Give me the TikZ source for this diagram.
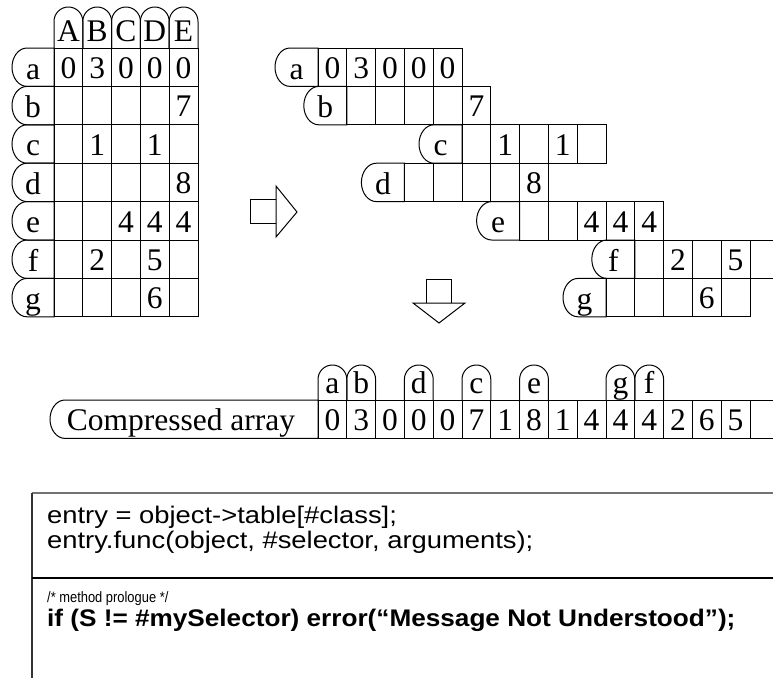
\documentclass[tikz,border=0pt]{standalone}
\usepackage{fontspec}
\setmainfont{Liberation Serif}
\newfontfamily\codefont[FakeStretch=1.14]{Liberation Sans}
\newfontfamily\codeboldfont[FakeStretch=1.09]{Liberation Sans}
\newfontfamily\codesmallfont[FakeStretch=0.86]{Liberation Sans}
\begin{document}
\begin{tikzpicture}[x=1pt,y=-1pt,
  ln/.style={draw=black,line width=1pt},
  txt/.style={anchor=base,inner sep=0pt,font=\fontsize{31.5}{31.5}\selectfont},
  code/.style={anchor=base west,inner sep=0pt,font=\codefont\fontsize{24}{26}\selectfont},
  codeb/.style={anchor=base west,inner sep=0pt,font=\codeboldfont\bfseries\fontsize{24}{26}\selectfont},
  codes/.style={anchor=base west,inner sep=0pt,font=\codesmallfont\fontsize{15}{17}\selectfont}]
\useasboundingbox (0,0) rectangle (773,678);
\clip (0,0) rectangle (773,678);
% header of the left table
\foreach \t [count=\j from 0] in {A,B,C,D,E} {
  \draw[ln] (54+\j*28.8,48) -- ++(0,-26.6) arc[start angle=180,end angle=360,radius=14.4] -- ++(0,26.6);
  \node[txt] (H\t) at (68.4+\j*28.8,41) {\t};
}
% rows: left table and staircase
\foreach \t/\off [count=\i from 0] in {a/0,b/1,c/5,d/3,e/7,f/11,g/10} {
  \pgfmathsetmacro\yt{48+\i*38.4}
  \pgfmathsetmacro\xr{318+\off*28.8}
  \draw[ln] (54,\yt) -- (27,\yt) arc[start angle=270,end angle=90,x radius=15,y radius=19.2] -- (54,\yt+38.4) -- cycle;
  \node[txt] (L\t) at (33,\yt+31) {\t};
  \draw[ln] (\xr,\yt) -- (\xr-28,\yt) arc[start angle=270,end angle=90,x radius=15,y radius=19.2] -- (\xr,\yt+38.4) -- cycle;
  \node[txt] (S\t) at (\xr-21.5,\yt+31) {\t};
  \foreach \j in {0,...,4} {
    \draw[ln] (54+\j*28.8,\yt) rectangle ++(28.8,38.4);
    \draw[ln] (\xr+\j*28.8,\yt) rectangle ++(28.8,38.4);
  }
}
% numbers
\foreach \t/\i/\off/\j/\v in {a/0/0/0/0, a/0/0/1/3, a/0/0/2/0, a/0/0/3/0, a/0/0/4/0,
   b/1/1/4/7, c/2/5/1/1, c/2/5/3/1, d/3/3/4/8, e/4/7/2/4, e/4/7/3/4, e/4/7/4/4,
   f/5/11/1/2, f/5/11/3/5, g/6/10/3/6} {
  \node[txt] (L\t\j) at (68.4+\j*28.8,{48+\i*38.4+30.4}) {\v};
  \node[txt] (S\t\j) at ({318+\off*28.8+14.4+\j*28.8},{48+\i*38.4+30.4}) {\v};
}
% arrows
\draw[ln,fill=white] (250,199) rectangle (276,223);
\draw[ln,fill=white] (276,186) -- (297,212) -- (276,237) -- cycle;
\draw[ln,fill=white] (426,279) rectangle (451,303);
\draw[ln,fill=white] (413,303) -- (465,303) -- (439,323) -- cycle;
% compressed array
\draw[ln] (318,400) -- (65,400) arc[start angle=270,end angle=90,x radius=15,y radius=19.2] -- (318,438.4) -- cycle;
\node[txt] (comp) at (181,430.4) {Compressed array};
\foreach \k in {0,...,15} {
  \draw[ln] (318+\k*28.8,400) rectangle ++(28.8,38.4);
}
\foreach \v [count=\k from 0] in {0,3,0,0,0,7,1,8,1,4,4,4,2,6,5} {
  \node[txt] (C\k) at (332.4+\k*28.8,430.4) {\v};
}
\foreach \t/\k in {a/0,b/1,d/3,c/5,e/7,g/10,f/11} {
  \draw[ln] (318+\k*28.8,400) -- ++(0,-20.6) arc[start angle=180,end angle=360,radius=14.4] -- ++(0,20.6);
  \node[txt] (T\t) at (332.4+\k*28.8,393) {\t};
}
% code box
\draw[draw=black!55,line width=2pt] (32,493) -- (773,493);
\draw[draw=black!80,line width=1.2pt] (32,493) -- (32,678);
\draw[draw=black,line width=1.2pt] (32,578) -- (773,578);
\node[code] (c1) at (47,523) {entry = object->table[\#class];};
\node[code] (c2) at (47,548) {entry.func(object, \#selector, arguments);};
\node[codes] (c3) at (47,602) {/* method prologue */};
\node[codeb] (c4) at (47,626) {if (S != \#mySelector) error(“Message Not Understood”);};
\end{tikzpicture}
\end{document}
